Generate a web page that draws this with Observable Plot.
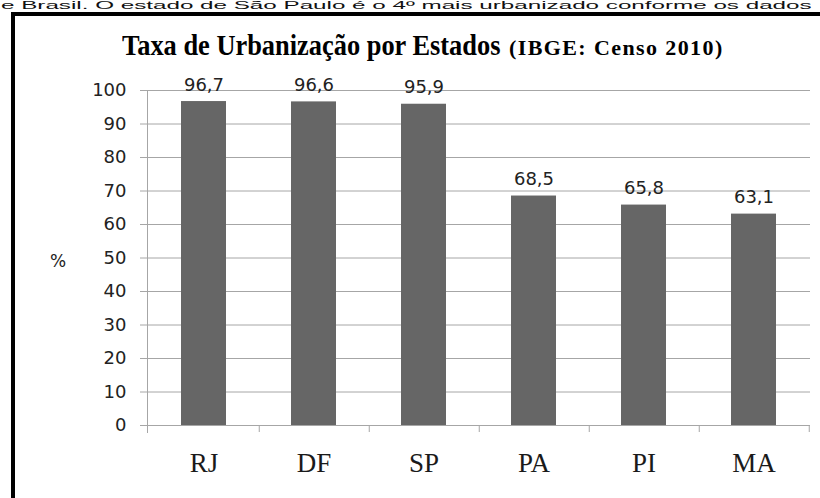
<!DOCTYPE html>
<html>
<head>
<meta charset="utf-8">
<script src="https://cdn.jsdelivr.net/npm/d3@7"></script>
<script src="https://cdn.jsdelivr.net/npm/@observablehq/plot@0.6"></script>
<style>
  html, body { margin: 0; padding: 0; background: #fff; }
  #wrap { position: relative; width: 820px; height: 498px; overflow: hidden; background: #fff; }
  #cut { position: absolute; left: 1px; top: 0px; white-space: nowrap; font: 11px/11px "Liberation Sans", Arial, sans-serif; color: #111; transform-origin: left top; transform: scaleX(2.2); }
  #border { position: absolute; left: 11px; top: 12px; width: 900px; height: 600px; border-left: 4px solid #000; border-top: 4px solid #000; }
  #title { position: absolute; left: 122px; top: 28px; white-space: nowrap; font-family: "Liberation Serif", "Times New Roman", serif; font-weight: bold; color: #000; }
  #title .main { display: inline-block; font-size: 30px; transform-origin: left bottom; transform: scaleX(0.88); width: 375px; }
  #title .sub { display: inline-block; font-size: 22px; letter-spacing: 1.4px; margin-left: 12px; }
  #pct { position: absolute; left: 50px; top: 251px; font: 17px "DejaVu Sans", sans-serif; color: #222; }
  #chart { position: absolute; left: 0; top: 0; }
</style>
</head>
<body>
<div id="wrap">
  <div id="border"></div>
  <div id="cut">e Brasil. O estado de São Paulo é o 4º mais urbanizado conforme os dados</div>
  <div id="title"><span class="main">Taxa de Urbanização por Estados</span><span class="sub">(IBGE: Censo 2010)</span></div>
  <div id="pct">%</div>
  <div id="chart"></div>
</div>
<script>
const states = ["RJ", "DF", "SP", "PA", "PI", "MA"];
const rates = [96.7, 96.6, 95.9, 68.5, 65.8, 63.1];
const yTicks = [0, 10, 20, 30, 40, 50, 60, 70, 80, 90, 100];

const data = states.map((s, i) => ({state: s, rate: rates[i]}));
const fmt = v => v.toFixed(1).replace(".", ",");

const W = 820, H = 498, mL = 147, mR = 10, mT = 90, mB = 73;
const halfStep = (W - mL - mR) / states.length / 2;
const grid = "#a6a6a6";

const chart = Plot.plot({
  width: W,
  height: H,
  marginLeft: mL,
  marginRight: mR,
  marginTop: mT,
  marginBottom: mB,
  style: {background: "transparent", overflow: "visible"},
  x: {domain: states, paddingInner: 0.59, paddingOuter: 0.295, label: null},
  y: {domain: [0, 100], label: null},
  marks: [
    Plot.gridY(yTicks, {stroke: grid, strokeOpacity: 1, strokeWidth: 1}),
    Plot.axisY(yTicks, {tickSize: 7, tickPadding: 14, stroke: grid, strokeOpacity: 1, fontSize: 18, fontFamily: "DejaVu Sans", fill: "#222", label: null}),
    Plot.barY(data, {x: "state", y: "rate", fill: "#666666"}),
    Plot.frame({anchor: "left", stroke: grid, insetBottom: -7}),
    Plot.ruleX(states, {x: d => d, y1: 0, y2: 0, dx: halfStep, insetBottom: -7, stroke: grid}),
    Plot.axisX({tickSize: 0, tickPadding: 27, fontSize: 27, fontFamily: "Liberation Serif", fill: "#1a1a1a", label: null}),
    Plot.text(data, {x: "state", y: "rate", text: d => fmt(d.rate), lineAnchor: "bottom", dy: -11, fontSize: 18, fontFamily: "DejaVu Sans", fill: "#222"})
  ]
});
document.getElementById("chart").appendChild(chart);
</script>
</body>
</html>
